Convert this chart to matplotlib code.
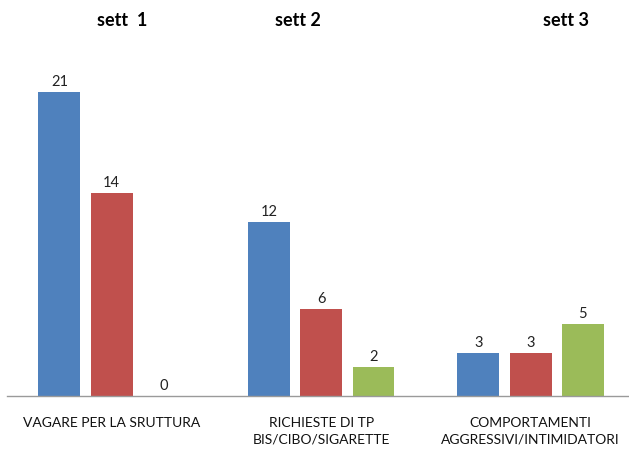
import numpy as np
import matplotlib.pyplot as plt

# data
categories = ['VAGARE PER LA SRUTTURA', 'RICHIESTE DI TP\nBIS/CIBO/SIGARETTE',
              'COMPORTAMENTI\nAGGRESSIVI/INTIMIDATORI']
series_names = ['sett  1', 'sett 2', 'sett 3']
sett1 = [21, 12, 3]
sett2 = [14, 6, 3]
sett3 = [0, 2, 5]
colors = ['#4F81BD', '#C0504D', '#9BBB59']

plt.rcParams['font.family'] = ['Lato', 'DejaVu Sans']

fig = plt.figure(figsize=(6.29, 4.49), dpi=100)
ax = fig.add_axes([7 / 629, 53 / 449, 622 / 629, 362 / 449])

x = np.arange(len(categories))
width = 0.2
offsets = [-0.25, 0.0, 0.25]
for vals, off, col in zip([sett1, sett2, sett3], offsets, colors):
    bars = ax.bar(x + off, vals, width, color=col)
    for b, v in zip(bars, vals):
        ax.text(b.get_x() + b.get_width() / 2, v + 0.2, str(v),
                ha='center', va='bottom', fontsize=10.5, color='#222222')

ax.set_xlim(-0.5, 2.47)
ax.set_ylim(0, 25)
ax.set_yticks([])
ax.set_xticks([])
for s in ['top', 'right', 'left']:
    ax.spines[s].set_visible(False)
ax.spines['bottom'].set_color('#9a9a9a')
ax.spines['bottom'].set_linewidth(1.0)

# category labels under the axis
for xi, lab in zip(x, categories):
    ax.text(xi, -0.058, lab, transform=ax.get_xaxis_transform(),
            ha='center', va='top', fontsize=10, color='#111111',
            linespacing=1.45)

# week titles on top
title_x = [122, 298, 566]
for tx, name in zip(title_x, series_names):
    fig.text(tx / 629, 1 - 20 / 449, name, ha='center', va='center',
             fontsize=13, fontweight='bold', color='black')

fig.savefig('out.png', dpi=100)
